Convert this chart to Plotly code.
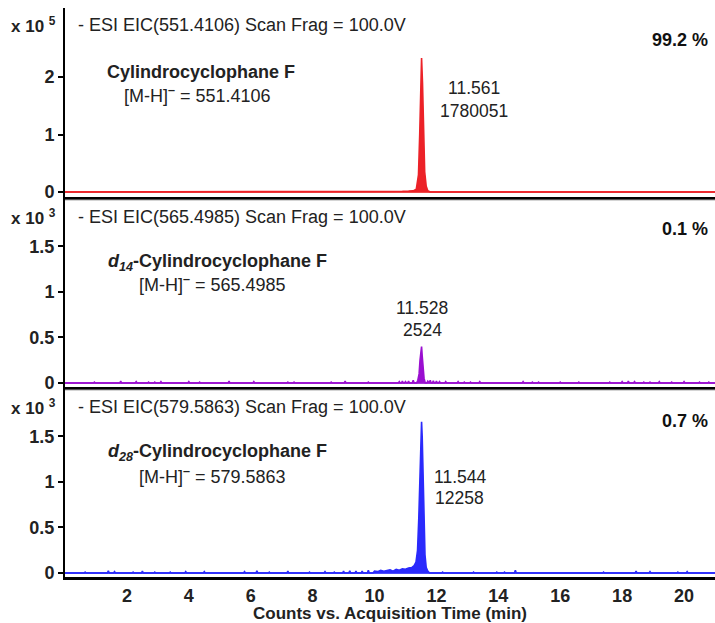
import plotly.graph_objects as go

# ---------------- data ----------------
x_range = [0, 21]
x_ticks = [2, 4, 6, 8, 10, 12, 14, 16, 18, 20]

# Panel 1: EIC 551.4106 (x 10^5 counts)
red_peak_t = [10.2, 10.3, 10.9, 11.1, 11.25, 11.35, 11.42, 11.46, 11.49, 11.52, 11.55, 11.58, 11.62, 11.67, 11.72, 11.8]
red_peak_v = [0.0, 0.01, 0.012, 0.015, 0.02, 0.05, 0.3, 1.0, 1.9, 2.33, 1.9, 1.0, 0.35, 0.1, 0.02, 0.0]
red_spike_t = []
red_spike_v = []

# Panel 2: EIC 565.4985 (x 10^3 counts)
pur_peak_t = [11.36, 11.40, 11.44, 11.47, 11.50, 11.52, 11.54, 11.57, 11.60, 11.64]
pur_peak_v = [0.0, 0.03, 0.1, 0.25, 0.38, 0.40, 0.3, 0.15, 0.05, 0.0]
pur_spike_t = [0.95, 1.8, 2.3, 2.7, 2.9, 3.1, 4.0, 4.35, 5.3, 6.1, 7.2, 7.4, 8.6, 9.05, 9.8,
               10.8, 10.9, 11.0, 11.1, 11.25, 11.72, 11.8, 11.9, 12.0, 12.1, 12.3, 12.7, 12.9,
               13.1, 13.4, 14.8, 15.1, 15.3, 16.0, 16.6, 17.6, 18.0, 18.2, 18.4, 18.7, 18.9,
               19.2, 19.6, 20.0, 20.5, 20.8]
pur_spike_v = [0.01, 0.02, 0.015, 0.01, 0.01, 0.015, 0.015, 0.01, 0.02, 0.015, 0.01, 0.01, 0.01, 0.02, 0.01,
               0.015, 0.02, 0.015, 0.02, 0.03, 0.02, 0.03, 0.025, 0.02, 0.015, 0.015, 0.015, 0.01,
               0.01, 0.015, 0.015, 0.01, 0.01, 0.01, 0.01, 0.01, 0.015, 0.02, 0.015, 0.01, 0.01,
               0.015, 0.01, 0.015, 0.01, 0.01]

# Panel 3: EIC 579.5863 (x 10^3 counts)
blu_peak_t = [9.95, 10.0, 10.1, 10.2, 10.3, 10.4, 10.5, 10.6, 10.7, 10.8, 10.9, 11.0, 11.1, 11.2, 11.28,
              11.34, 11.39, 11.43, 11.47, 11.50, 11.52, 11.54, 11.57, 11.60, 11.63, 11.67, 11.72, 11.78]
blu_peak_v = [0.0, 0.02, 0.015, 0.03, 0.02, 0.025, 0.035, 0.02, 0.04, 0.03, 0.045, 0.04, 0.055, 0.06, 0.08,
              0.12, 0.25, 0.6, 1.2, 1.55, 1.66, 1.5, 1.0, 0.5, 0.2, 0.06, 0.02, 0.0]
blu_spike_t = [0.65, 1.4, 1.6, 2.2, 2.5, 2.9, 3.4, 3.9, 4.5, 5.8, 6.2, 6.6, 7.2, 7.9, 8.4, 8.7,
               9.0, 9.2, 9.4, 9.6, 9.8, 12.2, 13.2, 13.95, 14.2, 14.55, 17.4, 18.45, 18.9, 19.8, 20.1]
blu_spike_v = [0.01, 0.025, 0.015, 0.01, 0.02, 0.01, 0.01, 0.015, 0.015, 0.015, 0.025, 0.01, 0.02, 0.01, 0.015, 0.01,
               0.02, 0.025, 0.02, 0.02, 0.03, 0.01, 0.01, 0.01, 0.01, 0.03, 0.01, 0.02, 0.015, 0.01, 0.015]

scan_titles = ["- ESI EIC(551.4106) Scan Frag = 100.0V",
               "- ESI EIC(565.4985) Scan Frag = 100.0V",
               "- ESI EIC(579.5863) Scan Frag = 100.0V"]
multipliers = ["x 10 <sup>5</sup>", "x 10 <sup>3</sup>", "x 10 <sup>3</sup>"]
percents = ["99.2 %", "0.1 %", "0.7 %"]
compounds = ["Cylindrocyclophane F",
             "<i>d<sub>14</sub></i>-Cylindrocyclophane F",
             "<i>d<sub>28</sub></i>-Cylindrocyclophane F"]
ions = ["[M-H]<sup><b>–</b></sup> = 551.4106",
        "[M-H]<sup><b>–</b></sup> = 565.4985",
        "[M-H]<sup><b>–</b></sup> = 579.5863"]
peak_rt = ["11.561", "11.528", "11.544"]
peak_area = ["1780051", "2524", "12258"]

y_ticks = [[0, 1, 2], [0, 0.5, 1, 1.5], [0, 0.5, 1, 1.5]]
y_ticktext = [["0", "1", "2"], ["0", "0.5", "1", "1.5"], ["0", "0.5", "1", "1.5"]]
y_ranges = [[-0.087, 3.2], [-0.044, 2.01], [-0.044, 2.01]]

colors = ["#ec2228", "#9a0fd0", "#2a2afc"]
base_colors = ["#f04848", "#a733d8", "#4a4afc"]

# ---------------- geometry ----------------
W, H = 715, 623
ML, MR, MT, MB = 65, 0, 8, 46
PW, PH = W - ML - MR, H - MT - MB
panel_px = [(8, 197), (200, 387), (390, 577)]  # top, bottom pixel of each panel


def py2paper(py):
    return (H - MB - py) / PH


def px2paper(px):
    return (px - ML) / PW


def build(pt, pv, st, sv, w=0.03):
    pts = [(x_range[0], 0.0), (x_range[1] + 0.5, 0.0)] + list(zip(pt, pv))
    for t, h in zip(st, sv):
        pts += [(t - w, 0.0), (t, h), (t + w, 0.0)]
    pts.sort(key=lambda p: p[0])
    return [p[0] for p in pts], [p[1] for p in pts]


series = [
    build(red_peak_t, red_peak_v, red_spike_t, red_spike_v),
    build(pur_peak_t, pur_peak_v, pur_spike_t, pur_spike_v),
    build(blu_peak_t, blu_peak_v, blu_spike_t, blu_spike_v),
]

FONT = "Liberation Sans, Arial, Helvetica, sans-serif"
TXT = "#222222"
fig = go.Figure()

layout = dict(
    width=W, height=H,
    margin=dict(l=ML, r=MR, t=MT, b=MB),
    paper_bgcolor="white", plot_bgcolor="white",
    showlegend=False,
    font=dict(family=FONT, color=TXT, size=18),
)

annotations = []
shapes = []

for i in range(3):
    top, bot = panel_px[i]
    xs, ys = series[i]
    xa = "x" if i == 0 else f"x{i+1}"
    ya = "y" if i == 0 else f"y{i+1}"
    # baseline (drawn slightly thicker, as in the original trace)
    fig.add_trace(go.Scatter(
        x=x_range, y=[0, 0], xaxis=xa, yaxis=ya, mode="lines",
        line=dict(color=base_colors[i], width=2.2), hoverinfo="skip",
    ))
    fig.add_trace(go.Scatter(
        x=xs, y=ys, xaxis=xa, yaxis=ya, mode="lines",
        line=dict(color=colors[i], width=1.6),
        fill="tozeroy", fillcolor=colors[i],
        hoverinfo="skip",
    ))
    key = "" if i == 0 else str(i + 1)
    xax = dict(
        domain=[0, 1], anchor=ya, range=x_range, automargin=False,
        showline=True, linecolor="black", linewidth=3,
        showgrid=False, zeroline=False,
        ticks="", tickvals=x_ticks,
        showticklabels=(i == 2),
        tickfont=dict(family=FONT, size=18, color=TXT, weight="bold"),
    )
    if i > 0:
        xax["matches"] = "x"
    if i == 2:
        xax["title"] = dict(
            text="<b>Counts vs. Acquisition Time (min)</b>",
            font=dict(family=FONT, size=17, color=TXT), standoff=0)
    layout["xaxis" + key] = xax
    layout["yaxis" + key] = dict(
        domain=[py2paper(bot), py2paper(top)], anchor=xa, range=y_ranges[i],
        automargin=False,
        showline=True, linecolor="black", linewidth=2,
        showgrid=False, zeroline=False,
        ticks="outside", ticklen=5, tickwidth=1.5, tickcolor="black",
        tickvals=y_ticks[i], ticktext=y_ticktext[i],
        tickfont=dict(family=FONT, size=18, color=TXT, weight="bold"),
    )

    yb = py2paper(top + 17)
    annotations.append(dict(xref="paper", yref="paper", x=px2paper(58), y=yb,
                            xanchor="right", yanchor="middle", showarrow=False,
                            text="<b>" + multipliers[i] + "</b>",
                            font=dict(family=FONT, size=17, color=TXT)))
    annotations.append(dict(xref="paper", yref="paper", x=px2paper(76), y=yb,
                            xanchor="left", yanchor="middle", showarrow=False,
                            text=scan_titles[i],
                            font=dict(family=FONT, size=18, color=TXT)))

    pct_y = [40, 229, 421][i]
    annotations.append(dict(xref="paper", yref="paper", x=px2paper(710), y=py2paper(pct_y),
                            xanchor="right", yanchor="middle", showarrow=False,
                            text="<b>" + percents[i] + "</b>",
                            font=dict(family=FONT, size=18, color="#111111")))

    cx, cy = [(201, 72), (217, 262), (217, 452)][i]
    annotations.append(dict(xref="paper", yref="paper", x=px2paper(cx), y=py2paper(cy),
                            xanchor="center", yanchor="middle", showarrow=False,
                            text="<b>" + compounds[i] + "</b>",
                            font=dict(family=FONT, size=18, color=TXT)))
    ix, iy = [(197, 94), (212, 283), (212, 475)][i]
    annotations.append(dict(xref="paper", yref="paper", x=px2paper(ix), y=py2paper(iy),
                            xanchor="center", yanchor="middle", showarrow=False,
                            text=ions[i],
                            font=dict(family=FONT, size=18, color=TXT)))

    lx, ly1, ly2 = [(474, 88, 111), (422, 308, 330), (460, 477, 498)][i]
    annotations.append(dict(xref="paper", yref="paper", x=px2paper(lx), y=py2paper(ly1),
                            xanchor="center", yanchor="middle", showarrow=False,
                            text=peak_rt[i], font=dict(family=FONT, size=17.5, color=TXT)))
    annotations.append(dict(xref="paper", yref="paper", x=px2paper(lx), y=py2paper(ly2),
                            xanchor="center", yanchor="middle", showarrow=False,
                            text=peak_area[i], font=dict(family=FONT, size=17.5, color=TXT)))

    if i > 0:
        shapes.append(dict(type="line", xref="paper", yref="paper",
                           x0=0, x1=1, y0=py2paper(top), y1=py2paper(top),
                           line=dict(color="#aaaaaa", width=1)))

layout["annotations"] = annotations
layout["shapes"] = shapes
fig.update_layout(**layout)

fig.write_html("out.html", config={"displayModeBar": False},
               post_script="document.body.style.margin='0';")
